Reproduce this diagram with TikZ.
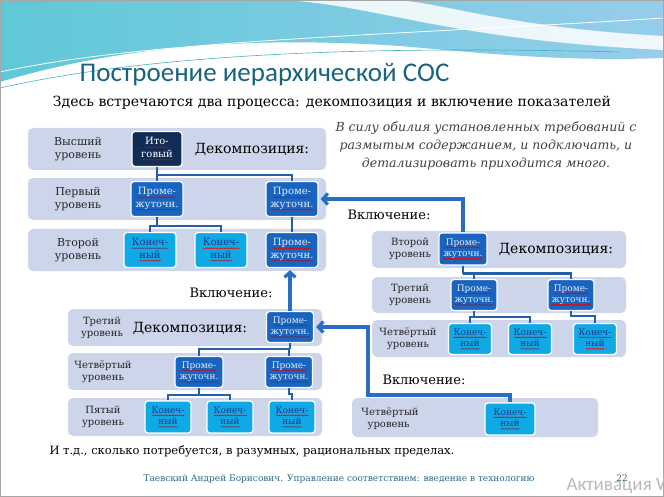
\documentclass[tikz,border=0pt]{standalone}
\usepackage{fontspec}
\setmainfont{DejaVu Serif}
\newfontfamily\headfont{Carlito}
\usetikzlibrary{arrows.meta,decorations.pathmorphing}
\definecolor{bandfill}{RGB}{205,213,234}
\definecolor{itogfill}{RGB}{16,45,85}
\definecolor{promfill}{RGB}{25,100,190}
\definecolor{promtext}{RGB}{225,235,255}
\definecolor{konfill}{RGB}{15,170,230}
\definecolor{kontext}{RGB}{25,55,140}
\definecolor{treeblue}{RGB}{35,95,170}
\definecolor{arrowblue}{RGB}{40,110,195}
\definecolor{headteal}{RGB}{25,100,125}
\definecolor{footteal}{RGB}{40,105,135}
\definecolor{waveA}{RGB}{95,200,215}
\definecolor{waveB}{RGB}{150,205,235}
\newlength\sqw
\newcommand\squig[1]{\settowidth\sqw{#1}\rlap{\tikz[baseline=0pt, x=1pt, y=1pt, sharp corners]
  \draw[red!85!black, line width=0.4pt, decorate, decoration={snake, amplitude=0.45pt, segment length=2pt}]
  (0pt,-2.3pt) -- (\sqw,-2.3pt);}#1}
\newcommand\promtxt{\squig{Проме-}\\\squig{жуточн.}}
\newcommand\kontxt{\squig{Конеч-}\\\squig{ный}}

\tikzset{
  band/.style={fill=bandfill, rounded corners=5pt},
  lvl/.style={align=center, font=\fontsize{10}{12}\selectfont, text=black!85},
  cell/.style={draw=white, line width=1.3pt, rounded corners=3pt, align=center,
    inner sep=0pt, font=\fontsize{9}{11.5}\selectfont, minimum width=46pt, minimum height=31pt},
  bigcell/.style={minimum width=52pt, minimum height=35pt, font=\fontsize{10}{12.5}\selectfont},
  itog/.style={cell, fill=itogfill, text=white},
  prom/.style={cell, fill=promfill, text=promtext},
  kon/.style={cell, fill=konfill, text=kontext},
  dec/.style={font=\fontsize{14}{16}\selectfont},
  incl/.style={-{Straight Barb[length=5pt,width=11pt]}, line width=3.2pt, draw=arrowblue},
  tree/.style={line width=2.5pt, draw=treeblue}
}

\begin{document}
\begin{tikzpicture}[x=1pt, y=-1pt]
\useasboundingbox (0,0) rectangle (664,497);
\clip (0,0) rectangle (664,497);
% slide background
\shade[left color=waveA, right color=waveB]
  (0,0) -- (664,0) -- (664,58) .. controls (560,62) and (470,52) .. (400,46)
  .. controls (250,36) and (120,46) .. (0,82) -- cycle;
\fill[white, opacity=0.85]
  (285,0) .. controls (380,6) and (450,40) .. (664,50) -- (664,36)
  .. controls (510,28) and (440,2) .. (395,0) -- cycle;
\draw[white, line width=0.8pt] (0,72) .. controls (150,40) and (380,36) .. (664,18);
\draw[waveA!70!teal, line width=0.6pt] (0,88) .. controls (160,52) and (380,46) .. (620,52);
\draw[gray!70, line width=1pt] (0.5,0.5) rectangle (663.5,496.5);

\node[anchor=west, font=\headfont\fontsize{27}{30}\selectfont, text=headteal] (title) at (76,75) {Построение иерархической СОС};
\node[font=\fontsize{14}{16}\selectfont] (sub) at (332,103) {Здесь встречаются два процесса: декомпозиция и включение показателей};
\node[align=center, font=\itshape\fontsize{12.5}{18}\selectfont, text=black!75] (note) at (486,146)
  {В силу обилия установленных требований с\\размытым содержанием, и подключать, и\\детализировать приходится много.};

% top left: decomposition
\fill[band] (28,128) rectangle (326,170);
\fill[band] (28,178) rectangle (326,220);
\fill[band] (28,229) rectangle (326,271);
\node[lvl, font=\fontsize{11}{13}\selectfont] (l1) at (78,149) {Высший\\уровень};
\node[lvl, font=\fontsize{11}{13}\selectfont] (l2) at (78,199) {Первый\\уровень};
\node[lvl, font=\fontsize{11}{13}\selectfont] (l3) at (78,250) {Второй\\уровень};
\node[itog, bigcell, minimum width=50pt] (itog) at (157,149) {\squig{Ито-}\\\squig{говый}};
\node[dec] (decA) at (252,149) {Декомпозиция:};
\node[prom, bigcell] (p1) at (157,199) {\promtxt};
\node[prom, bigcell] (p2) at (292,199) {\promtxt};
\node[kon, bigcell] (k1) at (150,250) {\kontxt};
\node[kon, bigcell] (k2) at (221,250) {\kontxt};
\node[prom, bigcell] (p3) at (292,250) {\promtxt};
\draw[tree] (itog.south) -- (p1.north);
\draw[tree] (itog.south) ++(0,8) -| (p2.north);
\draw[tree] (p1.south) -- ++(0,9) coordinate (j1);
\draw[tree] (k1.north) |- (j1) -| (k2.north);
\draw[tree] (p2.south) -- (p3.north);

% right: inclusion of the second level
\fill[band] (372,231) rectangle (626,268);
\fill[band] (372,277) rectangle (626,313);
\fill[band] (372,320) rectangle (626,357);
\node[lvl] (r1) at (410,249) {Второй\\уровень};
\node[lvl] (r2) at (410,295) {Третий\\уровень};
\node[lvl] (r3) at (408,339) {Четвёртый\\уровень};
\node[prom, minimum width=48pt, minimum height=32pt] (rp1) at (463,249) {\promtxt};
\node[dec] (decB) at (556,249) {Декомпозиция:};
\node[prom] (rp2) at (474,295) {\promtxt};
\node[prom] (rp3) at (571,295) {\promtxt};
\node[kon, minimum width=43pt] (rk1) at (470,339) {\kontxt};
\node[kon, minimum width=43pt] (rk2) at (530,339) {\kontxt};
\node[kon, minimum width=43pt] (rk3) at (595,339) {\kontxt};
\draw[tree] (rp1.south) -- ++(0,8) coordinate (j2);
\draw[tree] (rp2.north) |- (j2) -| (rp3.north);
\draw[tree] (rp2.south) -- ++(0,6) coordinate (j3);
\draw[tree] (rk1.north) |- (j3) -| (rk2.north);
\draw[tree] (rp3.south) -- ++(0,5) -| (rk3.north);

% bottom left: decomposition again
\fill[band] (68,309) rectangle (322,346);
\fill[band] (68,353) rectangle (322,390);
\fill[band] (68,398) rectangle (322,436);
\node[lvl] (b1) at (102,328) {Третий\\уровень};
\node[lvl] (b2) at (103,372) {Четвёртый\\уровень};
\node[lvl] (b3) at (103,417) {Пятый\\уровень};
\node[dec] (decC) at (190,328) {Декомпозиция:};
\node[prom, minimum width=47pt] (cp1) at (290,327) {\promtxt};
\node[prom, minimum width=48pt] (cp2) at (199,372) {\promtxt};
\node[prom, minimum width=47pt] (cp3) at (289,372) {\promtxt};
\node[kon, minimum width=46pt, minimum height=32pt] (ck1) at (168,417) {\kontxt};
\node[kon, minimum width=46pt, minimum height=32pt] (ck2) at (230,417) {\kontxt};
\node[kon, minimum width=46pt, minimum height=32pt] (ck3) at (292,417) {\kontxt};
\draw[tree] (cp1.south) -- ++(0,6) coordinate (j4);
\draw[tree] (cp2.north) |- (j4) -| (cp3.north);
\draw[tree] (cp2.south) -- ++(0,7) coordinate (j5);
\draw[tree] (ck1.north) |- (j5) -| (ck2.north);
\draw[tree] (cp3.south) -- ++(0,6) -| (ck3.north);

% bottom right: a single final one
\fill[band] (352,398) rectangle (598,437);
\node[lvl, align=left] (g1) at (390,419) {Четвёртый\\\ \ уровень};
\node[kon, minimum width=50pt, minimum height=32pt] (gk) at (510,419) {\kontxt};

% inclusion arrows
\coordinate (turn) at (368,395);
\draw[incl, shorten >=2pt] (rp1.north) |- (p2.east);
\draw[incl, shorten >=2pt] (cp1.north) -- (cp1.north |- p3.south);
\draw[incl, shorten >=2pt] (gk.north) |- (turn) |- (cp1.east);
\node[font=\fontsize{13}{15}\selectfont] (incA) at (389,215) {Включение:};
\node[font=\fontsize{13}{15}\selectfont] (incB) at (231,293) {Включение:};
\node[font=\fontsize{13}{15}\selectfont] (incC) at (424,380) {Включение:};

\node[anchor=west, font=\fontsize{11.5}{14}\selectfont] (etc) at (46,451) {И т.д., сколько потребуется, в разумных, рациональных пределах.};
\node[font=\fontsize{9}{11}\selectfont, text=footteal] (foot) at (339,479) {Таевский Андрей Борисович. Управление соответствием: введение в технологию};
\node[anchor=west, font=\headfont\fontsize{19}{21}\selectfont, text=gray!55] (wm) at (563,485) {Активация Windows};
\node[font=\fontsize{9}{11}\selectfont, text=footteal] (page) at (622,478) {22};
\end{tikzpicture}
\end{document}
